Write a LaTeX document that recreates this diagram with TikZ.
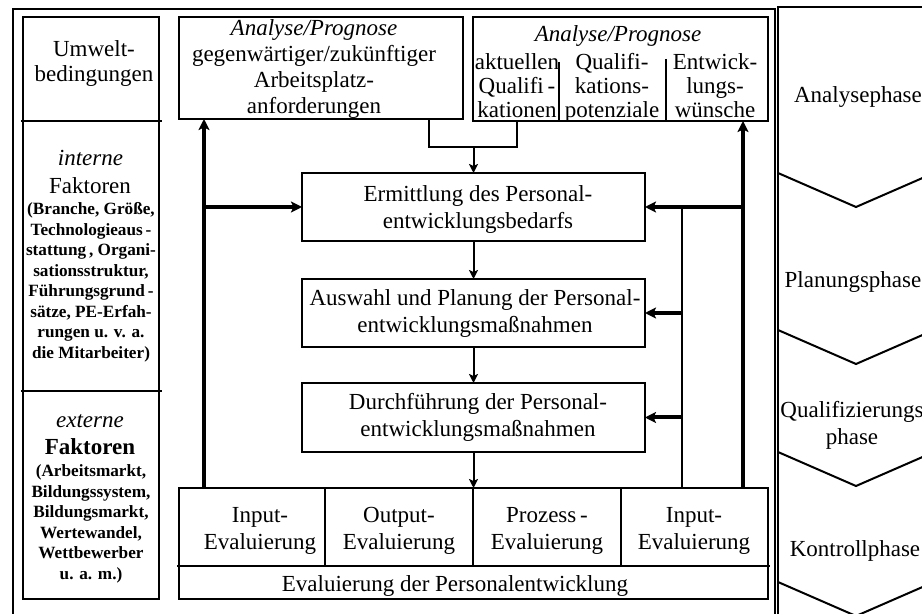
\documentclass[tikz,border=0pt]{standalone}
\usepackage{fontspec}
\setmainfont{Liberation Serif}
\usetikzlibrary{arrows.meta}
\begin{document}
\begin{tikzpicture}[x=0.5pt,y=-0.5pt,
  box/.style={draw, line width=1pt, inner sep=0pt, outer sep=0pt},
  thinline/.style={line width=1pt},
  thinarr/.style={line width=1pt,-{Stealth[length=4.5pt,width=4.5pt,inset=1pt]}},
  thickarr/.style={line width=2pt,-{Stealth[length=5.5pt,width=5.5pt,inset=1.2pt]}},
  txt/.style={inner sep=0pt, anchor=base, align=center},
  big/.style={txt, font=\fontsize{11.5}{#1}\selectfont},
  small/.style={txt, font=\fontsize{8.6}{10.25}\selectfont\bfseries}
]
\useasboundingbox (0,0) rectangle (922,614);
\clip (0,0) rectangle (922,614);

% outer frame and phase column
\draw[thinline] (13,9) rectangle (775,660);
\draw[thinline] (778,660) -- (778,7) -- (960,7);
\foreach \yy in {173,330,452,582}
  \draw[thinline] (778,\yy) -- (856,\yy+34) -- (934,\yy);

% boxes
\node[box, minimum width=68pt, minimum height=291pt] (leftcol) at (91,308) {};
\node[box, minimum width=142pt, minimum height=51pt] (tbA) at (321,68) {};
\node[box, minimum width=147.5pt, minimum height=52pt] (tbB) at (620.5,69) {};
\node[box, minimum width=171.5pt, minimum height=34pt] (mid1) at (473.5,207) {};
\node[box, minimum width=171.5pt, minimum height=34pt] (mid2) at (473.5,313) {};
\node[box, minimum width=171.5pt, minimum height=34.5pt] (mid3) at (473.5,417.5) {};
\node[box, minimum width=294.5pt, minimum height=55.5pt] (evalbox) at (473.5,543.5) {};

% partitions
\draw[thinline] (21,121) -- (162,121);
\draw[thinline] (21,391) -- (162,391);
\draw[thinline] (559,62) -- (559,121);
\draw[thinline] (666,59) -- (666,121);
\draw[thinline] (177,566) -- (770,566);
\foreach \xx in {325,473,621} \draw[thinline] (\xx,488) -- (\xx,566);

% texts left column (anchor base = last line's baseline)
\node[big=12.5] (tUmwelt) at (94,82) {Umwelt-\\bedingungen};
\node[big=13, font=\fontsize{11.5}{13}\selectfont\itshape] (tInt) at (90.5,166) {interne};
\node[big=13] (tIntF) at (90,194) {Faktoren};
\node[small] (tIntS) at (91,358.5) {(Branche, Größe,\\Technologieaus\,-\\stattung\,, Organi-\\sationsstruktur,\\Führungsgrund\,-\\sätze, PE-Erfah-\\rungen u. v. a.\\die Mitarbeiter)};
\node[big=13, font=\fontsize{11.5}{13}\selectfont\itshape] (tExt) at (90,428) {externe};
\node[big=13, font=\fontsize{11.5}{13}\selectfont\bfseries] (tExtF) at (90,455) {Faktoren};
\node[small] (tExtS) at (91,579.5) {(Arbeitsmarkt,\\Bildungssystem,\\Bildungsmarkt,\\Wertewandel,\\Wettbewerber\\u. a. m.)};

% top boxes texts
\node[big=13] (tA) at (314,114) {\textit{Analyse/Prognose}\\gegenwärtiger/zukünftiger\\Arbeitsplatz-\\anforderungen};
\node[big=12, font=\fontsize{11.5}{12}\selectfont\itshape] (tB) at (618,42) {Analyse/Prognose};
\node[big=12] (tB1) at (517,118) {aktuellen\\Qualifi\,-\\kationen};
\node[big=12] (tB2) at (612,118) {Qualifi-\\kations-\\potenziale};
\node[big=12] (tB3) at (715,118) {Entwick-\\lungs-\\wünsche};

% middle texts
\node[big=13.5] (tM1) at (478,229) {Ermittlung des Personal-\\entwicklungsbedarfs};
\node[big=13.5] (tM2) at (475,333) {Auswahl und Planung der Personal-\\entwicklungsmaßnahmen};
\node[big=13.5] (tM3) at (478,437) {Durchführung der Personal-\\entwicklungsmaßnahmen};

% evaluation texts
\node[big=13.5] (tE1) at (260,550) {Input-\\Evaluierung};
\node[big=13.5] (tE2) at (399,550) {Output-\\Evaluierung};
\node[big=13.5] (tE3) at (547,550) {Prozess\,-\\Evaluierung};
\node[big=13.5] (tE4) at (694,550) {Input-\\Evaluierung};
\node[big=13.5] (tE5) at (455,592) {Evaluierung der Personalentwicklung};

% phase texts
\node[big=13.5] (pA) at (858,103) {Analysephase};
\node[big=13.5] (pP) at (853,288) {Planungsphase};
\node[big=13.5] (pQ) at (852,445) {Qualifizierungs\\phase};
\node[big=13.5] (pK) at (855,557) {Kontrollphase};

% connectors
\coordinate (xL) at (204,0);
\coordinate (xR) at (743,0);
\coordinate (xM) at (682,0);
\coordinate (xC1) at (429,0);
\coordinate (xC2) at (517,0);
\coordinate (yJ) at (0,147);

\draw[thinline] (tbA.south -| xC1) |- (yJ -| xC2) -- (tbB.south -| xC2);
\draw[thinarr] (yJ -| mid1.north) -- (mid1.north);
\draw[thinarr] (mid1.south) -- (mid2.north);
\draw[thinarr] (mid2.south) -- (mid3.north);
\draw[thinarr] (mid3.south) -- (evalbox.north);

\draw[thickarr] (evalbox.north -| xL) -- (tbA.south -| xL);
\draw[thickarr] (mid1.west -| xL) -- (mid1.west);
\draw[thickarr] (evalbox.north -| xR) -- (tbB.south -| xR);
\draw[thickarr] (mid1.east -| xR) -- (mid1.east);
\draw[thinline] (evalbox.north -| xM) -- (mid1.east -| xM);
\draw[thickarr] (mid2.east -| xM) -- (mid2.east);
\draw[thickarr] (mid3.east -| xM) -- (mid3.east);
\end{tikzpicture}
\end{document}
